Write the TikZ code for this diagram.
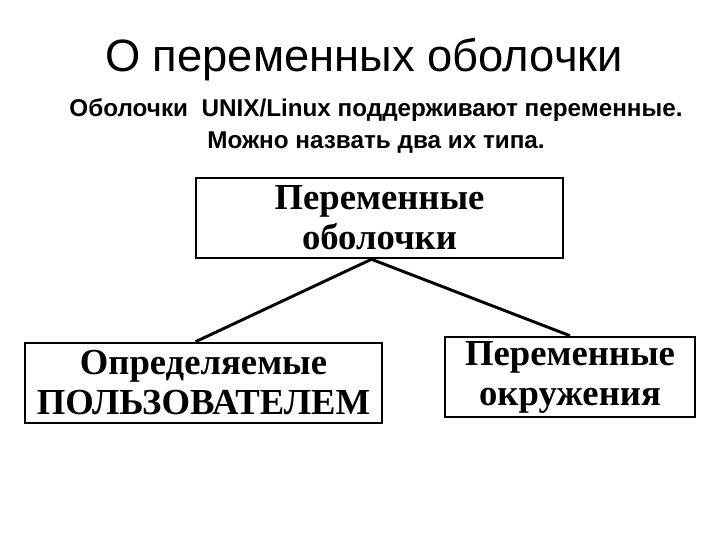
\documentclass[tikz,border=0pt]{standalone}
\usepackage{fontspec}
\setmainfont{Liberation Serif}
\newfontfamily\arialfont{Liberation Sans}
\usetikzlibrary{positioning}

\tikzset{
  varbox/.style={draw, line width=1.9pt, inner sep=0pt, align=center,
    font=\bfseries\fontsize{27.5}{30}\selectfont},
  branch/.style={line width=2.2pt}
}

\begin{document}
\begin{tikzpicture}[x=0.75pt,y=0.75pt,yscale=-1,xscale=1]
%set diagram left start at 0, and has height of 540
\useasboundingbox (0,0) rectangle (720,540);

% Title
\node (title) at (364,60) {\arialfont\fontsize{34}{40}\selectfont О переменных оболочки};
% Subtitle
\node (intro) at (376,126) [align=center, font=\arialfont\bfseries\fontsize{18.2}{24}\selectfont]
  {Оболочки\ \ UNIX/Linux поддерживают переменные.\\Можно назвать два их типа.};

% Boxes
\node (shellvars) at (379.5,218) [varbox, minimum width=275pt, minimum height=60pt]
  {Переменные\\оболочки};
\node (uservars) at (203.5,383) [varbox, minimum width=268pt, minimum height=60pt]
  {Определяемые\\ПОЛЬЗОВАТЕЛЕМ};
\node (envvars) at (570,377) [varbox, minimum width=187.5pt, minimum height=60pt]
  {Переменные\\окружения};

% Connections
\draw [branch] ([xshift=-6pt]shellvars.south) -- ([xshift=-6pt]uservars.north);
\draw [branch] ([xshift=-6pt]shellvars.south) -- (envvars.north);

\end{tikzpicture}
\end{document}
